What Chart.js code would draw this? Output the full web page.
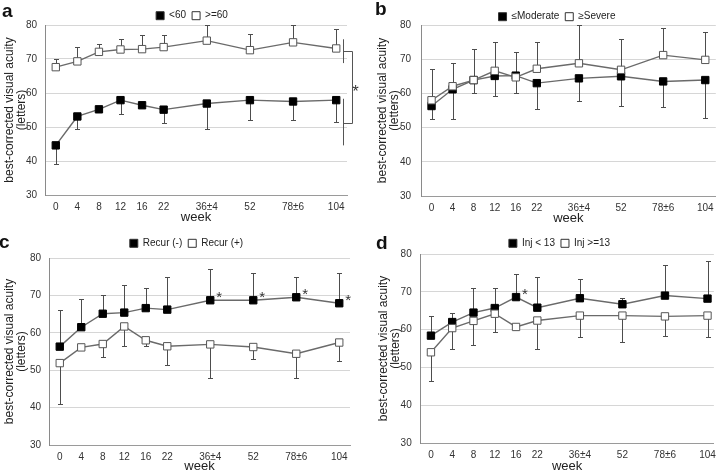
<!DOCTYPE html>
<html>
<head>
<meta charset="utf-8">
<script src="https://cdn.jsdelivr.net/npm/chart.js@4.4.1/dist/chart.umd.min.js"></script>
<style>
html, body { margin: 0; padding: 0; background: #fff; }
#wrap { position: relative; width: 722px; height: 473px; overflow: hidden; font-family: "Liberation Sans", Arial, sans-serif; }
.panel { position: absolute; width: 361px; }
.tag { position: absolute; font-weight: bold; font-size: 19px; line-height: 1; color: #111; }
</style>
</head>
<body>
<div id="wrap">
  <div class="panel" style="left:0;top:0;height:236px"><canvas id="chartA"></canvas></div>
  <div class="panel" style="left:361px;top:0;height:236px"><canvas id="chartB"></canvas></div>
  <div class="panel" style="left:0;top:236px;height:237px"><canvas id="chartC"></canvas></div>
  <div class="panel" style="left:361px;top:236px;height:237px"><canvas id="chartD"></canvas></div>
  <div class="tag" style="left:2px;top:1px">a</div>
  <div class="tag" style="left:375px;top:-1px">b</div>
  <div class="tag" style="left:-1px;top:232px">c</div>
  <div class="tag" style="left:376px;top:233px">d</div>
</div>
<script>
// 横轴：周数（刻度位置不等距）
const weekLabels = ['0', '4', '8', '12', '16', '22', '36±4', '52', '78±6', '104'];
const weekPos = [0, 1, 2, 3, 4, 5, 7, 9, 11, 13];

// a：基线视力 <60 / >=60
const aLabels = ['<60', '>=60'];
const aBlack = [44.6, 53.1, 55.2, 57.9, 56.4, 55.1, 56.9, 57.9, 57.5, 57.9];
const aBlackLow = [39.0, 49.5, null, 53.9, null, 51.1, 49.5, 52.1, 52.1, 51.5];
const aWhite = [67.6, 69.3, 72.1, 72.8, 72.9, 73.5, 75.4, 72.6, 74.9, 73.1];
const aWhiteHigh = [69.9, 73.5, 74.4, 75.8, 77.0, 77.0, 80.0, 77.4, 80.0, 78.9];
const aSdLines = [[75.8, 68.8], [58.3, 44.6]];   // 右侧两条竖线
const aBracketY = [72.4, 51.3];                  // 显著性括号上下端

// b：≤Moderate / ≥Severe
const bLabels = ['≤Moderate', '≥Severe'];
const bBlack = [56.3, 61.2, 63.9, 65.1, 65.2, 63.0, 64.4, 65.0, 63.5, 63.9];
const bBlackLow = [52.4, 52.4, 60.0, 59.1, 60.0, 55.5, 57.7, 56.3, 55.9, 52.8];
const bWhite = [58.0, 62.1, 63.9, 66.6, 64.7, 67.2, 68.8, 66.9, 71.2, 69.8];
const bWhiteHigh = [67.1, 69.0, 73.0, 75.0, 72.1, 75.0, 80.0, 76.0, 79.0, 78.0];

// c：Recur (-) / Recur (+)
const cLabels = ['Recur (-)', 'Recur (+)'];
const cBlack = [56.3, 61.5, 65.1, 65.4, 66.6, 66.2, 68.7, 68.7, 69.5, 67.9];
const cBlackHigh = [66.2, 69.1, 70.0, 72.9, 71.9, 75.0, 77.0, 76.0, 75.0, 76.0];
const cWhite = [51.9, 56.1, 57.0, 61.7, 58.0, 56.4, 56.9, 56.2, 54.4, 57.4];
const cWhiteLow = [41.0, null, 53.5, 56.4, 56.4, 51.5, 48.0, 53.0, 48.0, 52.5];
const cStars = [0, 0, 0, 0, 0, 0, 1, 1, 1, 1];

// d：Inj < 13 / Inj >=13
const dLabels = ['Inj < 13', 'Inj >=13'];
const dBlack = [58.4, 62.0, 64.5, 65.7, 68.6, 65.8, 68.3, 66.7, 69.0, 68.2];
const dBlackHigh = [63.6, 64.5, 71.0, 71.0, 74.7, 74.0, 73.3, 68.3, 77.0, 78.1];
const dWhite = [54.0, 60.4, 62.3, 64.2, 60.7, 62.4, 63.7, 63.7, 63.5, 63.7];
const dWhiteLow = [46.3, 55.0, 55.9, 59.4, null, 54.8, 58.0, 56.8, 58.4, 58.0];
const dStars = [0, 0, 0, 0, 1, 0, 0, 0, 0, 0];

Chart.defaults.font.family = '"Liberation Sans", Arial, sans-serif';
Chart.defaults.color = '#333';

// 误差线（单侧）
const errorBars = {
    id: 'errorBars',
    beforeDatasetsDraw(chart) {
        const ctx = chart.ctx;
        const yScale = chart.scales.y;
        ctx.save();
        ctx.strokeStyle = '#4d4d4d';
        ctx.lineWidth = 1;
        chart.data.datasets.forEach((ds, di) => {
            const meta = chart.getDatasetMeta(di);
            (ds.errEnd || []).forEach((v, i) => {
                if (v === null) return;
                const p = meta.data[i];
                const x = Math.round(p.x) + 0.5;
                const ye = Math.round(yScale.getPixelForValue(v)) + 0.5;
                ctx.beginPath();
                ctx.moveTo(x, p.y);
                ctx.lineTo(x, ye);
                ctx.moveTo(x - 2.5, ye);
                ctx.lineTo(x + 2.5, ye);
                ctx.stroke();
            });
        });
        ctx.restore();
    }
};

// 图例位置、星号、括号
const extras = {
    id: 'extras',
    beforeLayout(chart, args, opts) {
        const lg = chart.legend;
        if (lg && !lg._fixed) {
            const fit = lg.fit;
            lg.fit = function () {
                fit.call(this);
                this.height = opts.legendH;
            };
            lg._fixed = true;
        }
    },
    afterLayout(chart, args, opts) {
        const lg = chart.legend;
        const dx = opts.legendX - (lg.left + lg.right) / 2;
        lg.left += dx;
        lg.right += dx;
        const h = lg.height;
        lg.top = opts.legendY - 6 - 5;
        lg.bottom = lg.top + h;
    },
    afterDraw(chart, args, opts) {
        const ctx = chart.ctx;
        const xs = chart.scales.x;
        const ys = chart.scales.y;
        ctx.save();
        ctx.fillStyle = '#333';
        ctx.font = '15px "Liberation Sans", Arial, sans-serif';
        ctx.textAlign = 'center';
        ctx.textBaseline = 'alphabetic';
        if (opts.stars) {
            const meta = chart.getDatasetMeta(0);
            opts.stars.forEach((s, i) => {
                if (!s) return;
                const p = meta.data[i];
                ctx.fillText('*', p.x + 9, p.y - 7 + 8.5);
            });
        }
        if (opts.sdLines) {
            ctx.strokeStyle = '#555';
            ctx.lineWidth = 1;
            const x0 = Math.round(xs.getPixelForValue(13.3)) + 0.5;
            const x1 = Math.round(xs.getPixelForValue(13.72)) + 0.5;
            ctx.beginPath();
            opts.sdLines.forEach(r => {
                ctx.moveTo(x0, ys.getPixelForValue(r[0]));
                ctx.lineTo(x0, ys.getPixelForValue(r[1]));
            });
            const yt = Math.round(ys.getPixelForValue(opts.bracketY[0])) + 0.5;
            const yb = Math.round(ys.getPixelForValue(opts.bracketY[1])) + 0.5;
            ctx.moveTo(x0, yt);
            ctx.lineTo(x1, yt);
            ctx.lineTo(x1, yb);
            ctx.lineTo(x0, yb);
            ctx.stroke();
            ctx.font = '16px "Liberation Sans", Arial, sans-serif';
            ctx.fillText('*', xs.getPixelForValue(13.9), (yt + yb) / 2 + 9);
        }
        ctx.restore();
    }
};

function makePanel(id, p) {
    const toPts = arr => weekPos.map((x, i) => ({ x: x, y: arr[i] }));
    return new Chart(document.getElementById(id), {
        type: 'line',
        data: {
            datasets: [
                {
                    label: p.labels[0],
                    data: toPts(p.black),
                    errEnd: p.blackErr,
                    order: 1,
                    borderColor: '#6a6a6a',
                    borderWidth: 1.4,
                    pointStyle: 'rect',
                    pointRadius: 5.2,
                    pointBackgroundColor: '#000',
                    pointBorderColor: '#000',
                    pointBorderWidth: 1
                },
                {
                    label: p.labels[1],
                    data: toPts(p.white),
                    errEnd: p.whiteErr,
                    order: 0,
                    borderColor: '#6a6a6a',
                    borderWidth: 1.4,
                    pointStyle: 'rect',
                    pointRadius: 5.2,
                    pointBackgroundColor: '#fff',
                    pointBorderColor: '#555',
                    pointBorderWidth: 1
                }
            ]
        },
        options: {
            responsive: true,
            maintainAspectRatio: false,
            animation: false,
            events: [],
            layout: { padding: { left: p.pl, right: p.pr, top: 0, bottom: p.pb } },
            plugins: {
                tooltip: { enabled: false },
                legend: {
                    position: 'top',
                    labels: {
                        boxWidth: 8,
                        boxHeight: 8,
                        padding: 6,
                        color: '#222',
                        font: { size: 10 },
                        generateLabels: chart => chart.data.datasets.map((ds, i) => ({
                            text: ds.label,
                            fillStyle: ds.pointBackgroundColor,
                            strokeStyle: '#333',
                            lineWidth: 1,
                            datasetIndex: i,
                            fontColor: '#222'
                        }))
                    }
                },
                extras: {
                    legendH: p.top,
                    legendX: p.legendX,
                    legendY: p.legendY,
                    stars: p.stars || null,
                    sdLines: p.sdLines || null,
                    bracketY: p.bracketY || null
                }
            },
            scales: {
                x: {
                    type: 'linear',
                    min: -0.5,
                    max: p.xMax,
                    afterBuildTicks: s => { s.ticks = weekPos.map(v => ({ value: v })); },
                    afterFit: s => { s.height = p.xh; },
                    grid: { display: false, drawTicks: false },
                    border: { display: true, color: '#9a9a9a', width: 1 },
                    ticks: {
                        padding: 6,
                        color: '#333',
                        font: { size: 10 },
                        maxRotation: 0,
                        autoSkip: false,
                        callback: v => weekLabels[weekPos.indexOf(v)]
                    },
                    title: {
                        display: true,
                        text: 'week',
                        color: '#222',
                        font: { size: 13, lineHeight: 1 },
                        padding: 0
                    }
                },
                y: {
                    min: 30,
                    max: 80,
                    afterFit: s => { s.width = p.yw; },
                    grid: { color: '#d6d6d6', lineWidth: 1, drawTicks: false },
                    border: { display: true, color: '#8a8a8a', width: 1 },
                    ticks: {
                        stepSize: 10,
                        padding: p.tickPad,
                        color: '#333',
                        font: { size: 10 }
                    },
                    title: {
                        display: true,
                        text: ['best-corrected visual acuity', '(letters)'],
                        color: '#222',
                        font: { size: 12, lineHeight: 1 },
                        padding: 0
                    }
                }
            }
        },
        plugins: [errorBars, extras]
    });
}

makePanel('chartA', {
    labels: aLabels, black: aBlack, blackErr: aBlackLow, white: aWhite, whiteErr: aWhiteHigh,
    pl: 4, yw: 41, pr: 14, pb: 12.5, xh: 28.5, top: 25, xMax: 13.5, tickPad: 8,
    legendX: 192, legendY: 15.7, sdLines: aSdLines, bracketY: aBracketY
});
makePanel('chartB', {
    labels: bLabels, black: bBlack, blackErr: bBlackLow, white: bWhite, whiteErr: bWhiteHigh,
    pl: 15.7, yw: 44.3, pr: 3, pb: 11.2, xh: 28.8, top: 25, xMax: 13.5, tickPad: 10,
    legendX: 196, legendY: 16.7
});
makePanel('chartC', {
    labels: cLabels, black: cBlack, blackErr: cBlackHigh, white: cWhite, whiteErr: cWhiteLow,
    pl: 3.3, yw: 45.7, pr: 11, pb: 0, xh: 28, top: 22, xMax: 13.5, tickPad: 8,
    legendX: 186.5, legendY: 7.3, stars: cStars
});
makePanel('chartD', {
    labels: dLabels, black: dBlack, blackErr: dBlackHigh, white: dWhite, whiteErr: dWhiteLow,
    pl: 16.7, yw: 42.6, pr: 7, pb: 0, xh: 30, top: 18, xMax: 13.3, tickPad: 8.6,
    legendX: 198.5, legendY: 7.3, stars: dStars
});
</script>
</body>
</html>
